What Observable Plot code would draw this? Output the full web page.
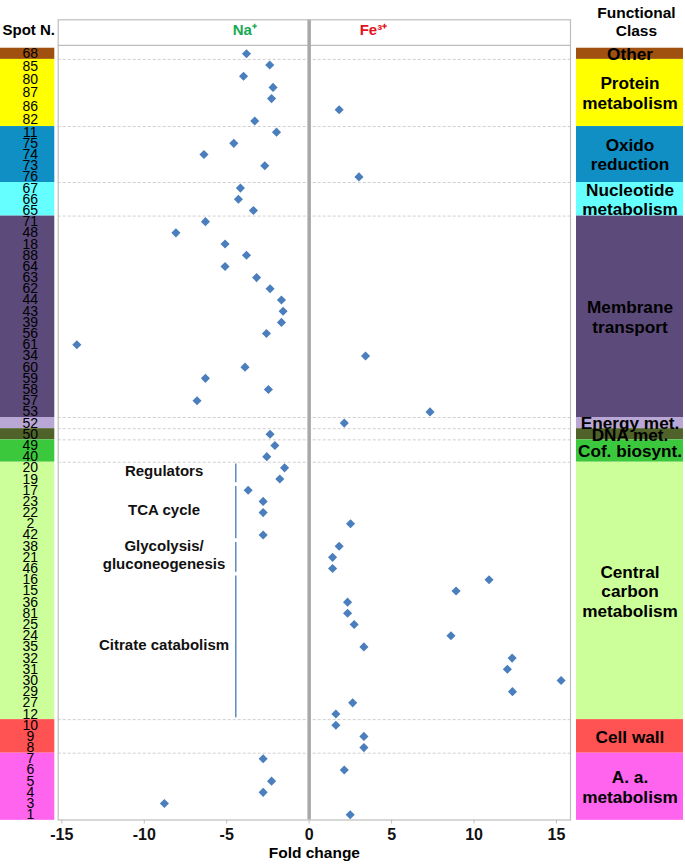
<!DOCTYPE html>
<html><head><meta charset="utf-8">
<script src="https://cdn.jsdelivr.net/npm/d3@7"></script>
<script src="https://cdn.jsdelivr.net/npm/@observablehq/plot@0.6"></script>
<style>
body{margin:0;background:#fff;}
#chart{position:relative;width:685px;height:865px;}
#chart svg{position:absolute;left:0;top:0;}
</style></head><body><div id="chart"></div>
<script>
// ---- data ----
const classNames = ["Other","Protein\nmetabolism","Oxido\nreduction","Nucleotide\nmetabolism","Membrane\ntransport","Energy met.","DNA met.","Cof. biosynt.","Central\ncarbon\nmetabolism","Cell wall","A. a.\nmetabolism"];
const classColors = ["#a0500f","#ffff00","#0f8fc4","#66ffff","#5c4a7b","#b9a8d6","#4e6229","#3cc83c","#ccff99","#ff5252","#ff64ee"];
const spotNumbers = [
  ["68"],
  ["85","80","87","86","82"],
  ["11","75","74","73","76"],
  ["67","66","65"],
  ["71","48","18","88","64","63","62","44","43","39","56","61","34","60","59","58","57","53"],
  ["52"],
  ["50"],
  ["49","40"],
  ["20","19","17","23","22","2","42","38","21","46","16","15","36","81","25","24","35","32","31","30","29","27","12"],
  ["10","9","8"],
  ["7","6","5","4","3","1"]
];
const foldChange = [
  [-3.80],
  [-2.39,-3.98,-2.19,-2.28,1.82,-3.30],
  [-1.98,-4.57,-6.38,-2.69,3.02],
  [-4.17,-4.29,-3.38],
  [-6.29,-8.08,-5.10,-3.80,-5.10,-3.19,-2.37,-1.68,-1.58,-1.68,-2.59,-14.09,3.42,-3.89,-6.29,-2.47,-6.80,7.33],
  [2.13],
  [-2.37],
  [-2.08,-2.57],
  [-1.49,-1.78,-3.70,-2.79,-2.79,2.51,-2.79,1.82,1.42,1.42,10.91,8.91,2.33,2.33,2.73,8.60,3.32,12.31,12.02,15.28,12.33,2.64,1.62],
  [1.62,3.32,3.32],
  [-2.79,2.13,-2.28,-2.79,-8.78,2.49]
];
const subgroupClass = "Central\ncarbon\nmetabolism";
const subgroupNames = ["Regulators","TCA cycle","Glycolysis/\ngluconeogenesis","Citrate catabolism"];
const subgroupRows = [2,5,3,13];
const xTicks = [-15,-10,-5,0,5,10,15];

// ---- derived tables ----
const rows = [];
const classSpans = [];
let r = 0;
foldChange.forEach((vals, c) => {
  const start = r;
  vals.forEach(v => { rows.push({row: r, cls: c, fold: v}); r++; });
  classSpans.push({name: classNames[c], color: classColors[c], start, end: r - 1});
});
const spotLabels = [];
classSpans.forEach((s, c) => {
  const n = spotNumbers[c].length, nr = s.end - s.start + 1;
  spotNumbers[c].forEach((lab, k) => spotLabels.push({label: lab, y: s.start - 0.5 + (k + 0.5) * nr / n}));
});
const cc = classSpans[classNames.indexOf(subgroupClass)];
const subgroups = [];
let sr = cc.start;
subgroupNames.forEach((nm, i) => {
  subgroups.push({name: nm, start: sr, end: sr + subgroupRows[i] - 1});
  sr += subgroupRows[i];
});
const boundaries = classSpans.slice(1).map(d => d.start - 0.5);

// ---- layout ----
const W = 685, H = 865;
const yTop = 19.3, yBot = 819.5;
const yOpt = {type: "linear", domain: [-3.04, 68.47], range: [yTop, yBot], axis: null};
const FONT = "'Liberation Sans', Arial, Helvetica, sans-serif";
const common = {width: W, height: H, marginTop: yTop, marginBottom: H - yBot,
  style: {background: "transparent", overflow: "visible", fontFamily: FONT}};
const headerY = -2.08;
const bracketX = -4.45, bracketLabelX = -8.8, gap = 0.16;

const left = Plot.plot({
  ...common, marginLeft: 0, marginRight: W - 54.3,
  x: {domain: [0, 1], range: [0, 54.3], axis: null},
  y: yOpt,
  marks: [
    Plot.rect(classSpans, {x1: 0, x2: 1, y1: d => d.start - 0.5, y2: d => d.end + 0.5, fill: "color"}),
    Plot.text(spotLabels, {x: 0.55, y: "y", text: "label", fontSize: 14, fill: "#000"}),
    Plot.text(["Spot N."], {x: 0.52, y: headerY, fontSize: 15, fontWeight: "bold", fill: "#000"})
  ]
});

const right = Plot.plot({
  ...common, marginLeft: 576, marginRight: W - 683,
  x: {domain: [0, 1], range: [576, 683], axis: null},
  y: yOpt,
  marks: [
    Plot.rect(classSpans, {x1: 0, x2: 1, y1: d => d.start - 0.5, y2: d => d.end + 0.5, fill: "color"}),
    Plot.text(classSpans, {x: 0.5, y: d => (d.start + d.end) / 2, text: "name", fontSize: 17.2, fontWeight: "bold", lineHeight: 1.13, fill: "#000"}),
    Plot.text(["Functional\nClass"], {x: 0.56, y: -2.89, fontSize: 15.5, fontWeight: "bold", lineHeight: 1.18, fill: "#000", fontFamily: FONT})
  ]
});

const main = Plot.plot({
  ...common, marginLeft: 57.7, marginRight: W - 570,
  x: {domain: [-15.22, 15.85], range: [57.7, 570]},
  y: yOpt,
  marks: [
    Plot.ruleY(boundaries, {stroke: "#cfcfcf", strokeDasharray: "3,2"}),
    Plot.ruleY([-0.75], {stroke: "#bdbdbd", strokeWidth: 1.2}),
    Plot.ruleX([0], {stroke: "#a8a8a8", strokeWidth: 3.5}),
    Plot.frame({stroke: "#bdbdbd", strokeWidth: 1.2}),
    Plot.ruleX(subgroups, {x: bracketX, y1: d => d.start - 0.5 + gap, y2: d => d.end + 0.5 - gap, stroke: "#5e8bc2", strokeWidth: 1.5}),
    Plot.text(subgroups, {x: bracketLabelX, y: d => (d.start + d.end) / 2, dy: -3, text: "name", fontSize: 15, fontWeight: "bold", lineHeight: 1.2, fill: "#111"}),
    Plot.dot(rows, {x: "fold", y: "row", symbol: "diamond2", r: 4.1, fill: "#4a7ebc"}),
    Plot.axisX({ticks: xTicks, tickSize: 4, tickPadding: 5, fontSize: 16, fontWeight: "bold", label: null,
      tickFormat: d => (d < 0 ? "-" + Math.abs(d) : String(d)), stroke: "#bdbdbd", fill: "#111"}),
    Plot.text(["Fold change"], {frameAnchor: "bottom", dy: 38, fontSize: 15.5, fontWeight: "bold", fill: "#000", fontFamily: FONT}),
    Plot.text(["Na⁺"], {x: -3.9, y: headerY, fontSize: 15, fontWeight: "bold", fill: "#17a852"}),
    Plot.text(["Fe³⁺"], {x: 3.9, y: headerY, fontSize: 15, fontWeight: "bold", fill: "#e3121b"})
  ]
});

const el = document.getElementById("chart");
el.append(left, right, main);
</script></body></html>
